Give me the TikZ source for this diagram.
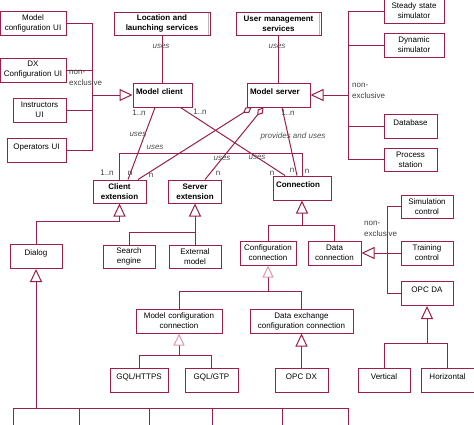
\documentclass[tikz,border=0pt]{standalone}
\usepackage{fontspec}
\setmainfont{Liberation Sans}
\usetikzlibrary{arrows.meta}
\definecolor{umlred}{RGB}{155,30,75}
\definecolor{umlpink}{RGB}{225,150,180}
\definecolor{notegray}{RGB}{80,80,80}
\tikzset{
  cls/.style={draw=umlred, line width=1pt, inner xsep=3pt, inner ysep=0pt, align=center,
    minimum height=24pt, font=\fontsize{8}{10}\selectfont},
  clsbold/.style={cls, font=\fontsize{8}{10}\selectfont\bfseries},
  onetop/.style={text height=11pt, text depth=13pt},
  link/.style={draw=umlred, line width=1pt},
  inh/.style={link, -{Triangle[open,length=13pt,width=12pt]}},
  inhl/.style={link, -{Triangle[open,length=12pt,width=11pt,color=umlpink]}},
  agg/.style={link, {Diamond[open,length=10pt,width=6.5pt]}-},
  note/.style={font=\fontsize{8}{10}\selectfont\itshape, text=notegray, inner sep=0pt},
  mult/.style={font=\fontsize{8}{11}\selectfont, text=black!75, inner sep=0pt},
  shadowline/.style={draw=gray!55, line width=1pt}
}
\begin{document}
\begin{tikzpicture}[x=1pt,y=-1pt]
    \useasboundingbox (0,0) rectangle (474,424);
    % user interfaces
    \node[cls, text width=60pt] (mcui) at (33,23) {Model\\configuration UI};
    \node[cls, text width=60pt] (dxui) at (33,70) {DX\\Configuration UI};
    \node[cls, text width=47pt] (instui) at (39.5,110) {Instructors\\UI};
    \node[cls, onetop, text width=53pt] (opui) at (36.5,150) {Operators UI};
    % services and core
    \node[clsbold, text width=90pt, minimum height=23pt] (locsrv) at (162,23.5) {Location and\\launching services};
    \node[clsbold, text width=79pt, minimum height=23pt] (usersrv) at (278.5,23.5) {User management\\services};
    \node[clsbold, onetop, align=left, text width=53pt] (mclient) at (162.5,95) {Model client};
    \node[clsbold, onetop, align=left, text width=57pt] (mserver) at (278.5,95) {Model server};
    % simulators
    \node[cls, text width=54pt] (steady) at (414,11) {Steady state\\simulator};
    \node[cls, text width=54pt] (dynsim) at (414,45) {Dynamic\\simulator};
    \node[cls, onetop, text width=47pt] (database) at (410.5,126) {Database};
    \node[cls, text width=47pt, minimum height=23pt] (procst) at (410.5,159.5) {Process\\station};
    % extensions
    \node[clsbold, text width=47pt, minimum height=23pt] (clext) at (119.5,191.5) {Client\\extension};
    \node[clsbold, text width=47pt, minimum height=23pt] (svext) at (195,191.5) {Server\\extension};
    \node[clsbold, onetop, align=left, text width=52pt] (conn) at (302,188) {Connection};
    \node[cls, onetop, text width=46pt, minimum height=23pt] (dialog) at (36,256.5) {Dialog};
    \node[cls, text width=46pt, minimum height=23pt] (search) at (129,256.5) {Search\\engine};
    \node[cls, text width=46pt, minimum height=23pt] (extmodel) at (195,256.5) {External\\model};
    % connections
    \node[cls, text width=50pt] (confconn) at (268,253) {Configuration\\connection};
    \node[cls, text width=47pt] (dataconn) at (334.5,253) {Data\\connection};
    \node[cls, text width=46pt, minimum height=23pt] (simctrl) at (427,206.5) {Simulation\\control};
    \node[cls, text width=46pt] (trainctrl) at (427,253) {Training\\control};
    \node[cls, onetop, text width=46pt, minimum height=23pt] (opcda) at (427,293.5) {OPC DA};
    \node[cls, text width=80pt] (mcconn) at (179,321) {Model configuration\\connection};
    \node[cls, text width=97pt] (dxconn) at (301.5,321) {Data exchange\\configuration connection};
    \node[cls, onetop, text width=52pt] (gqlhttps) at (139,380) {GQL/HTTPS};
    \node[cls, onetop, text width=47pt] (gqlgtp) at (211.5,380) {GQL/GTP};
    \node[cls, onetop, text width=47pt] (opcdx) at (301.5,380) {OPC DX};
    \node[cls, onetop, text width=46pt] (vert) at (384,380) {Vertical};
    \node[cls, onetop, text width=47pt] (horiz) at (447.5,380) {Horizontal};
    \draw[shadowline] ([xshift=-2pt,yshift=-1pt]locsrv.north east) -- ([xshift=-2pt,yshift=1pt]locsrv.south east);
    \draw[shadowline] ([xshift=-2pt,yshift=-1pt]usersrv.north east) -- ([xshift=-2pt,yshift=1pt]usersrv.south east);
    % junctions
    \coordinate (jcl) at (92,95);
    \coordinate (jsr) at (348,95);
    \coordinate (jtop) at (302,153);
    \coordinate (jce) at (119.5,221);
    \coordinate (jsv) at (195,232);
    \coordinate (jcon) at (302,225);
    \coordinate (jdc) at (387,253);
    \coordinate (jcc) at (268,291);
    \coordinate (jmc) at (179,355);
    \coordinate (jda) at (427,343);
    \coordinate (jdl) at (36,408);
    \coordinate (sub1) at (13,430);
    \coordinate (sub2) at (79,430);
    \coordinate (sub3) at (149,430);
    \coordinate (sub4) at (212,430);
    \coordinate (sub5) at (282,430);
    \coordinate (sub6) at (348,430);
    % client side
    \draw[link] (mcui.east) -| (jcl);
    \draw[link] (dxui.east) -| (jcl);
    \draw[link] (instui.east) -| (jcl);
    \draw[link] (opui.east) -| (jcl);
    \draw[inh] (jcl) -- (mclient.west);
    \draw[link] (locsrv.south) -- (locsrv.south |- mclient.north);
    \draw[link] (usersrv.south) -- (mserver.north);
    % server side
    \draw[link] (steady.west) -| (jsr);
    \draw[link] (dynsim.west) -| (jsr);
    \draw[link] (database.west) -| (jsr);
    \draw[link] (procst.west) -| (jsr);
    \draw[inh] (jsr) -- (mserver.east);
    % associations
    \draw[link] ([xshift=-7.5pt]mclient.south) -- ([xshift=8.5pt]clext.north);
    \draw[link] ([xshift=18pt]mclient.south) -- ([xshift=-17pt]conn.north);
    \draw[agg] ([xshift=-27pt]mserver.south) -- ([xshift=18.5pt]clext.north);
    \draw[agg] ([xshift=-15pt]mserver.south) -- ([xshift=10pt]svext.north);
    \draw[link] ([xshift=3.5pt]mserver.south) -- ([xshift=-5pt]conn.north);
    \draw[link] (clext.north) |- (jtop) -- (conn.north);
    % inheritance
    \draw[link] (dialog.north) |- (jce);
    \draw[inh] (jce) -- (clext.south);
    \draw[link] (search.north) |- (jsv);
    \draw[inh] (extmodel.north) -- (svext.south);
    \draw[link] (confconn.north) |- (jcon);
    \draw[link] (dataconn.north) |- (jcon);
    \draw[inh] (jcon) -- (conn.south);
    \draw[link] (simctrl.west) -| (jdc);
    \draw[link] (trainctrl.west) -- (jdc);
    \draw[link] (opcda.west) -| (jdc);
    \draw[inh] (jdc) -- (dataconn.east);
    \draw[link] (mcconn.north) |- (jcc);
    \draw[link] (dxconn.north) |- (jcc);
    \draw[inhl] (jcc) -- (confconn.south);
    \draw[link] (gqlhttps.north) |- (jmc);
    \draw[link] (gqlgtp.north) |- (jmc);
    \draw[inhl] (jmc) -- (mcconn.south);
    \draw[inh] (opcdx.north) -- (dxconn.south);
    \draw[link] (vert.north) |- (jda);
    \draw[link] (horiz.north) |- (jda);
    \draw[inh] (jda) -- (opcda.south);
    \draw[link] (sub1) |- (jdl);
    \draw[link] (sub2) |- (jdl);
    \draw[link] (sub3) |- (jdl);
    \draw[link] (sub4) |- (jdl);
    \draw[link] (sub5) |- (jdl);
    \draw[link] (sub6) |- (jdl);
    \draw[inh] (jdl) -- (dialog.south);
    % labels
    \node[note] (uloc) at (161,46) {uses};
    \node[note] (uusr) at (277,46) {uses};
    \node[note] (ucl) at (138,134) {uses};
    \node[note] (urect) at (155,147) {uses};
    \node[note] (usv) at (222,158) {uses};
    \node[note] (ucon) at (257,157) {uses};
    \node[note] (uprov) at (293,136) {provides and uses};
    \node[mult] (m1) at (139,113) {1..n};
    \node[mult] (m2) at (200,112) {1..n};
    \node[mult] (m3) at (288,113) {1..n};
    \node[mult] (m4) at (107,173) {1..n};
    \node[mult] (m5) at (130,173) {n};
    \node[mult] (m6) at (151,175) {n};
    \node[mult] (m7) at (218,173) {n};
    \node[mult] (m8) at (272,173) {n};
    \node[mult] (m9) at (292,170) {n};
    \node[mult] (m10) at (307,171) {n};
    \node[mult, align=left, anchor=north west] (nxl) at (69,70) {non-\\exclusive};
    \node[mult, align=left, anchor=north west] (nxr) at (352,83) {non-\\exclusive};
    \node[mult, align=left, anchor=north west] (nxd) at (364,221) {non-\\exclusive};
\end{tikzpicture}
\end{document}
